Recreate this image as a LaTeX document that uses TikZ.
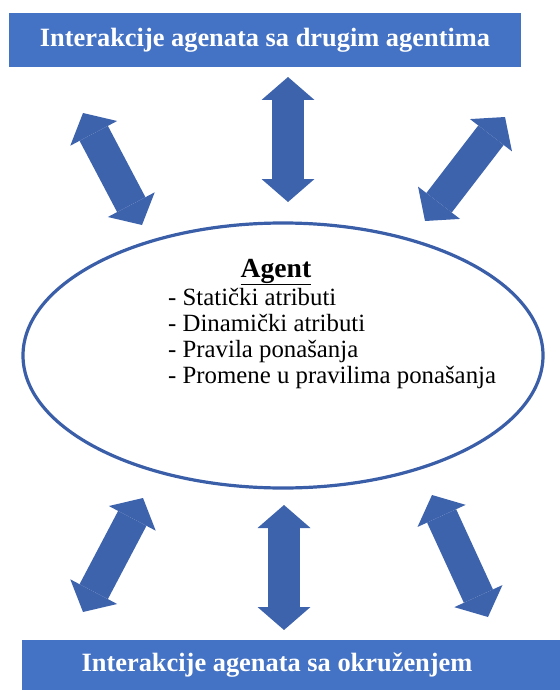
\documentclass[tikz,border=0pt]{standalone}
\usepackage{fontspec}
\setmainfont{Liberation Serif}
\usetikzlibrary{arrows.meta,shapes.geometric}
\definecolor{barblue}{HTML}{4472C4}
\definecolor{arrowblue}{HTML}{3E63AD}
\definecolor{rimblue}{HTML}{3A5EA8}

\begin{document}
\begin{tikzpicture}[x=1pt,y=-1pt,
  bar/.style={fill=barblue,text=white,inner sep=0,font=\fontsize{26.4}{30}\selectfont\bfseries},
  link/.style={arrowblue,line width=32pt,{Triangle[width=53pt,length=23pt,line width=0pt]}-{Triangle[width=53pt,length=23pt,line width=0pt]}}]
\useasboundingbox (0,0) rectangle (559,690);
\node [bar,minimum width=512,minimum height=54] (others) at (265,40) {Interakcije agenata sa drugim agentima};
\fill [barblue] (22,640) rectangle (575,700);
\node [bar] (env) at (277,665) {Interakcije agenata sa okruženjem};
\node [ellipse,draw=rimblue,line width=3.2pt,minimum width=520,minimum height=265] (agent) at (283,355.5) {};
\node [anchor=base,inner sep=0,font=\fontsize{27.6}{30}\selectfont\bfseries] (name) at (276,277) {\underline{Agent}};
\node [anchor=west,inner sep=0,align=left,font=\fontsize{24.8}{26}\selectfont] (traits) at (168,339) {- Statički atributi\\- Dinamički atributi\\- Pravila ponašanja\\- Promene u pravilima ponašanja};
\coordinate (t1) at (83,113); \coordinate (s1) at (142,225);
\coordinate (t2) at (288,77); \coordinate (s2) at (288,202);
\coordinate (t3) at (505,117); \coordinate (s3) at (425,221);
\coordinate (b1) at (143,498); \coordinate (e1) at (83,612);
\coordinate (b2) at (284,505); \coordinate (e2) at (284,630);
\coordinate (b3) at (432,495); \coordinate (e3) at (488,617);
\draw [link] (t1) -- (s1);
\draw [link] (t2) -- (s2);
\draw [link] (t3) -- (s3);
\draw [link] (b1) -- (e1);
\draw [link] (b2) -- (e2);
\draw [link] (b3) -- (e3);
\end{tikzpicture}
\end{document}
